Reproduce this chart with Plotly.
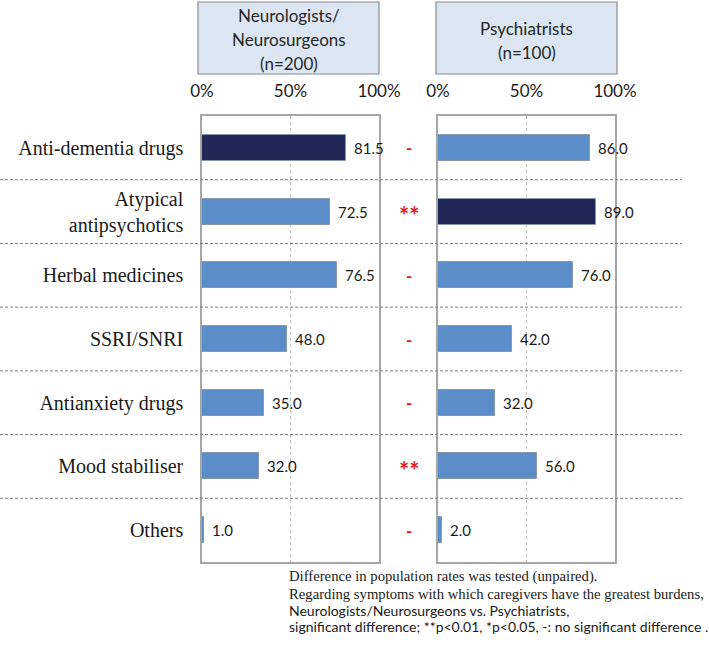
import plotly.graph_objects as go

categories = ["Anti-dementia drugs", "Atypical<br>antipsychotics", "Herbal medicines",
              "SSRI/SNRI", "Antianxiety drugs", "Mood stabiliser", "Others"]
neuro_values = [81.5, 72.5, 76.5, 48.0, 35.0, 32.0, 1.0]
psych_values = [86.0, 89.0, 76.0, 42.0, 32.0, 56.0, 2.0]
neuro_highlight = [True, False, False, False, False, False, False]
psych_highlight = [False, True, False, False, False, False, False]
significance = ["-", "**", "-", "-", "-", "**", "-"]
tick_vals = [0, 50, 100]
tick_text = ["0%", "50%", "100%"]
header_left = ["Neurologists/", "Neurosurgeons", "(n=200)"]
header_right = ["Psychiatrists", "(n=100)"]
footnote_serif = ["Difference in population rates was tested (unpaired).",
                  "Regarding symptoms with which caregivers have the greatest burdens,"]
footnote_sans = ["Neurologists/Neurosurgeons vs. Psychiatrists,",
                 "significant difference; **p<0.01, *p<0.05, -: no significant difference ."]

W, H = 709, 655
DARK = "#1F2857"
LIGHT = "#5B8DC9"
SANS = "Lato"
SERIF = "Liberation Serif"


def px(x):
    return x / W


def py(y):
    return 1 - y / H


left_dom = [px(202), px(379)]
right_dom = [px(438), px(615)]
y_dom = [py(562), py(116)]

fig = go.Figure()
fig.add_trace(go.Bar(
    x=neuro_values, y=categories, orientation="h", xaxis="x", yaxis="y",
    marker=dict(color=[DARK if h else LIGHT for h in neuro_highlight],
                line=dict(color="#8797AE", width=1)),
    width=0.41, showlegend=False, hoverinfo="x+y"))
fig.add_trace(go.Bar(
    x=psych_values, y=categories, orientation="h", xaxis="x2", yaxis="y2",
    marker=dict(color=[DARK if h else LIGHT for h in psych_highlight],
                line=dict(color="#8797AE", width=1)),
    width=0.41, showlegend=False, hoverinfo="x+y"))

xcommon = dict(range=[0, 100], side="top", tickvals=tick_vals, ticktext=tick_text,
               showgrid=True, gridcolor="#BFBFBF", griddash="dot", gridwidth=1,
               showline=True, mirror=True, linecolor="#A6A6A6", linewidth=1.5,
               ticks="outside", ticklen=10, tickcolor="rgba(0,0,0,0)",
               tickfont=dict(family=SANS, size=17, color="#1a1a1a"),
               zeroline=False, fixedrange=True)
ycommon = dict(range=[6.5, -0.5], showline=True, mirror=True, linecolor="#A6A6A6",
               linewidth=1.5, showgrid=False, zeroline=False, fixedrange=True,
               type="category", domain=y_dom)

fig.update_layout(
    width=W, height=H, margin=dict(l=0, r=0, t=0, b=0, autoexpand=False),
    paper_bgcolor="white", plot_bgcolor="white", bargap=0,
    xaxis=dict(domain=left_dom, anchor="y", **xcommon),
    xaxis2=dict(domain=right_dom, anchor="y2", **xcommon),
    yaxis=dict(anchor="x", ticks="outside", ticklen=13, tickcolor="rgba(0,0,0,0)",
               tickfont=dict(family=SERIF, size=20, color="#1a1a1a"), **ycommon),
    yaxis2=dict(anchor="x2", matches="y", showticklabels=False, **ycommon),
)

shapes = []
# header boxes
shapes.append(dict(type="rect", xref="paper", yref="paper", x0=px(198), x1=px(379),
                   y0=py(74), y1=py(2), fillcolor="#DCE6F2",
                   line=dict(color="#8C8C8C", width=1.2), layer="below"))
shapes.append(dict(type="rect", xref="paper", yref="paper", x0=px(436), x1=px(617),
                   y0=py(74), y1=py(2), fillcolor="#DCE6F2",
                   line=dict(color="#8C8C8C", width=1.2), layer="below"))
# row separators
for i in range(len(categories) - 1):
    shapes.append(dict(type="line", xref="paper", yref="y", x0=0, x1=px(682),
                       y0=i + 0.5, y1=i + 0.5,
                       line=dict(color="#7F7F7F", width=1, dash="3px,2px"), layer="above"))
fig.update_layout(shapes=shapes)

ann = []
for t, y in zip(header_left, [15, 39, 63]):
    ann.append(dict(xref="paper", yref="paper", x=px(288.5), y=py(y), text=t,
                    showarrow=False, font=dict(family=SANS, size=17, color="#262626"),
                    xanchor="center", yanchor="middle"))
for t, y in zip(header_right, [28, 52]):
    ann.append(dict(xref="paper", yref="paper", x=px(526.5), y=py(y), text=t,
                    showarrow=False, font=dict(family=SANS, size=17, color="#262626"),
                    xanchor="center", yanchor="middle"))
for cat, v in zip(categories, neuro_values):
    ann.append(dict(xref="x", yref="y", x=v, y=cat, text=f"{v:.1f}", showarrow=False,
                    xanchor="left", xshift=6, font=dict(family=SANS, size=15, color="#1a1a1a")))
for cat, v in zip(categories, psych_values):
    ann.append(dict(xref="x2", yref="y2", x=v, y=cat, text=f"{v:.1f}", showarrow=False,
                    xanchor="left", xshift=6, font=dict(family=SANS, size=15, color="#1a1a1a")))
for cat, s in zip(categories, significance):
    ann.append(dict(xref="paper", yref="y", x=px(408.5), y=cat, text=f"<b>{s}</b>",
                    showarrow=False, xanchor="center",
                    yshift=-4 if s == "**" else 0,
                    font=dict(family=SANS, size=24 if s == "**" else 17, color="#E0201B")))
fy = [576, 594]
for t, y in zip(footnote_serif, fy):
    ann.append(dict(xref="paper", yref="paper", x=px(287), y=py(y), text=t, showarrow=False,
                    xanchor="left", yanchor="middle",
                    font=dict(family=SERIF, size=14.7, color="#1a1a1a")))
fy2 = [610, 626]
for t, y in zip(footnote_sans, fy2):
    ann.append(dict(xref="paper", yref="paper", x=px(287), y=py(y), text=t, showarrow=False,
                    xanchor="left", yanchor="middle",
                    font=dict(family=SANS, size=14, color="#1a1a1a")))
fig.update_layout(annotations=ann)

fig.write_html("out.html", config={"displayModeBar": False},
               post_script="document.body.style.margin='0px';")
